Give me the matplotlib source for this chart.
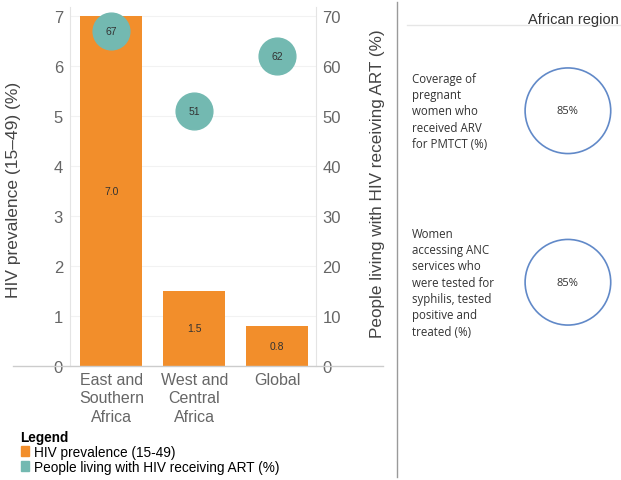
import matplotlib.pyplot as plt
from matplotlib.lines import Line2D
from matplotlib.patches import Patch

# data
regions = ["East and\nSouthern\nAfrica", "West and\nCentral\nAfrica", "Global"]
hiv_prevalence = [7.0, 1.5, 0.8]
art_coverage = [67, 51, 62]

panel_labels = [
    "Coverage of\npregnant\nwomen who\nreceived ARV\nfor PMTCT (%)",
    "Women\naccessing ANC\nservices who\nwere tested for\nsyphilis, tested\npositive and\ntreated (%)",
]
panel_values = [85, 85]

orange = "#f28e2b"
teal = "#73b9b1"
blue = "#6189c8"
grey_txt = "#666666"

plt.rcParams["font.family"] = ["Liberation Sans", "DejaVu Sans"]

W, H = 621, 481
fig = plt.figure(figsize=(W / 100, H / 100), dpi=100)


def fx(px):
    return px / W


def fy(py):
    return 1 - py / H


# left chart
ax = fig.add_axes([fx(70), fy(367), fx(316 - 70), (367 - 8) / H])
x = list(range(len(regions)))
ax.bar(x, hiv_prevalence, width=0.75, color=orange, zorder=2)
for xi, v in zip(x, hiv_prevalence):
    ax.text(xi, v / 2, f"{v:.1f}", ha="center", va="center", fontsize=7.5, color="#333333", zorder=4)
ax.set_xlim(-0.5, 2.47)
ax.set_ylim(0, 7.18)
ax.set_yticks(range(0, 8))
ax.set_xticks(x)
ax.set_xticklabels(regions, linespacing=1.3, fontsize=11.5)
ax.tick_params(axis="both", length=0, labelcolor=grey_txt)
ax.tick_params(axis="y", pad=5, labelsize=12)
ax.tick_params(axis="x", pad=4)
ax.grid(axis="y", color="#f2f2f2", lw=0.8, zorder=0)
for s in ["top", "bottom"]:
    ax.spines[s].set_visible(False)
ax.spines["left"].set_color("#e4e4e4")
ax.spines["right"].set_color("#e4e4e4")
ax.set_ylabel("HIV prevalence (15\u201349) (%)", fontsize=12.5, color="#444444")
ax.yaxis.set_label_coords((21 - 70) / 246, (367 - 190) / 359)

axr = ax.twinx()
axr.set_ylim(0, 71.8)
axr.set_yticks(range(0, 80, 10))
axr.tick_params(axis="y", length=0, labelsize=12, labelcolor=grey_txt, pad=4.5)
for s in axr.spines.values():
    s.set_visible(False)
axr.scatter(x, art_coverage, s=700, color=teal, zorder=3)
for xi, v in zip(x, art_coverage):
    axr.text(xi, v, str(v), ha="center", va="center", fontsize=7.5, color="#333333", zorder=4)
axr.set_ylabel("People living with HIV receiving ART (%)", fontsize=12.3, color="#444444")
axr.yaxis.set_label_coords((370 - 70) / 246, (367 - 184) / 359)

# baseline running past the plot area
fig.add_artist(Line2D([fx(13), fx(383)], [fy(367), fy(367)], color="#cccccc", lw=1))

# legend
handles = [Patch(color=orange, label="HIV prevalence (15-49)"),
           Patch(color=teal, label="People living with HIV receiving ART (%)")]
fig.legend(handles=handles, loc="upper left", bbox_to_anchor=(fx(11), fy(421)),
           frameon=False, title="Legend", alignment="left", fontsize=9.8,
           title_fontproperties={"weight": "bold", "size": 9.8},
           handlelength=0.6, handleheight=0.7, handletextpad=0.4,
           labelspacing=0.08, borderpad=0.2)

# divider between panels
fig.add_artist(Line2D([fx(397), fx(397)], [fy(3), fy(478)], color="#9a9a9a", lw=1))

# right panel
fig.text(fx(619), fy(20), "African region", ha="right", va="center", fontsize=10.5, color="#333333")
fig.add_artist(Line2D([fx(407), fx(621)], [fy(26), fy(26)], color="#e6e6e6", lw=1))

axp = fig.add_axes([fx(397), fy(369), fx(224), (369 - 26) / H])
axp.set_xlim(0, 1)
axp.set_ylim(len(panel_values) - 0.5, -0.5)
axp.axis("off")
yy = list(range(len(panel_values)))
axp.scatter([0.763] * len(yy), yy, s=3800, facecolor="none", edgecolor=blue, lw=1.2)
for yi, lab, v in zip(yy, panel_labels, panel_values):
    axp.text(0.763, yi, f"{v}%", ha="center", va="center", fontsize=8, color="#333333",
             family="Open Sans")
    axp.text(0.067, yi, lab, ha="left", va="center", fontsize=8.3, color="#333333",
             linespacing=1.33, family="Open Sans")

fig.savefig("out.png", dpi=100, facecolor="white")
